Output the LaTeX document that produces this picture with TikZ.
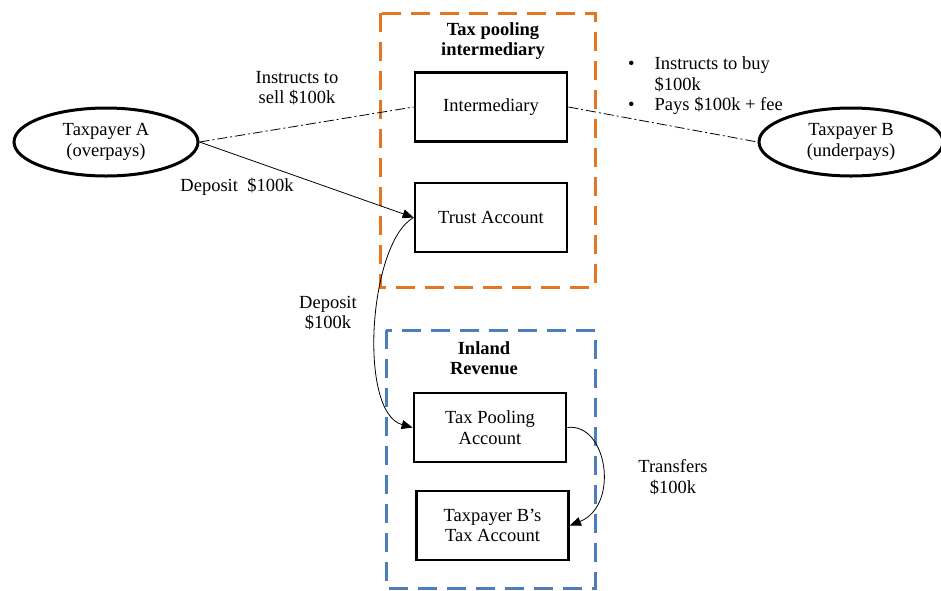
\documentclass[tikz,border=0pt]{standalone}
\usepackage{fontspec}
\setmainfont{Liberation Serif}
\usetikzlibrary{shapes.geometric, arrows.meta}

\definecolor{poolorange}{RGB}{226,118,34}
\definecolor{revblue}{RGB}{76,126,186}

\tikzset{
    acct/.style={draw, line width=2.8pt, fill=white, minimum width=152pt,
        minimum height=69pt, align=center},
    payer/.style={draw, ellipse, line width=3pt, fill=white, minimum width=184pt,
        minimum height=68pt, align=center},
    group/.style={line width=3pt, dash pattern=on 19pt off 10pt},
    instr/.style={line width=0.8pt, dash pattern=on 10pt off 3pt on 2pt off 3pt},
    flow/.style={line width=0.8pt, -{Triangle[length=11pt,width=9pt]}},
    lbl/.style={align=center}
}

\begin{document}
\begin{tikzpicture}[x=1pt, y=-1pt, font=\fontsize{18.5}{20.5}\selectfont]
    \useasboundingbox (0,0) rectangle (941,590);

    % the two groups
    \draw[group, poolorange] (380,13) rectangle (595,287);
    \draw[group, revblue] (386,330) rectangle (595,588);
    \node[lbl, font=\fontsize{18.5}{20.5}\selectfont\bfseries] (poolhead) at (493,41)
        {Tax pooling\\intermediary};
    \node[lbl, font=\fontsize{18.5}{20.5}\selectfont\bfseries] (revhead) at (484,358)
        {Inland\\Revenue};

    \node[acct] (inter) at (491,107) {Intermediary};
    \node[acct] (trust) at (491,217.5) {Trust Account};
    \node[acct] (taxpool) at (490,427.5) {Tax Pooling\\Account};
    \node[acct] (bacct) at (492.5,525.5) {Taxpayer B's\\Tax Account};

    \node[payer] (tpA) at (106,142) {Taxpayer A\\(overpays)};
    \node[payer] (tpB) at (851,142) {Taxpayer B\\(underpays)};

    \draw[instr] (tpA.east) -- (inter.west);
    \draw[instr] (inter.east) -- (tpB.west);
    \draw[flow] (tpA.east) -- (trust.west);
    \draw[flow] (trust.west) .. controls +(-45,25) and +(-55,-15) .. (taxpool.west);
    \draw[flow] (taxpool.east) .. controls +(40,-5) and +(50,-20) .. (bacct.east);

    \node[lbl] (sellA) at (297,88) {Instructs to\\sell \$100k};
    \node[lbl] (depA) at (237,187) {Deposit\ \ \$100k};
    \node[lbl] (depT) at (328,313) {Deposit\\\$100k};
    \node[lbl] (xfer) at (673,477) {Transfers\\\$100k};
    \node[anchor=north west, inner sep=0pt] (buyB) at (628,55)
        {\begin{tabular}{@{}l@{\hspace{20pt}}l@{}}
            \textbullet & Instructs to buy\\
                        & \$100k\\
            \textbullet & Pays \$100k + fee
        \end{tabular}};
\end{tikzpicture}
\end{document}
